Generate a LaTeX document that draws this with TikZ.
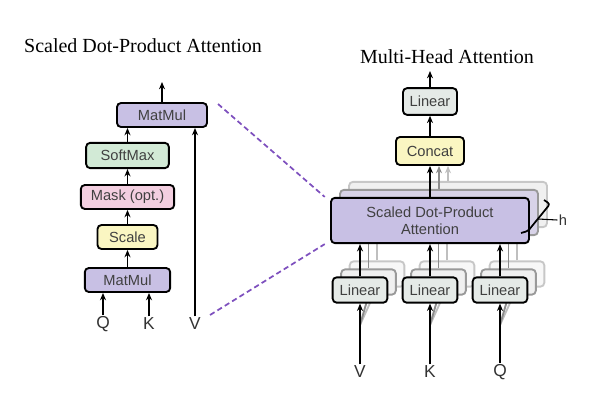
\documentclass[tikz,border=0pt]{standalone}
\usepackage{fontspec}
\setmainfont{Liberation Serif}
\newfontfamily\boxfont{Liberation Sans}
\usetikzlibrary{arrows.meta,positioning}
\definecolor{mmcol}{RGB}{200,192,228}
\definecolor{smcol}{RGB}{210,234,214}
\definecolor{mkcol}{RGB}{243,207,224}
\definecolor{sccol}{RGB}{250,246,194}
\definecolor{lncol}{RGB}{229,234,231}
\definecolor{sd1col}{RGB}{216,211,232}
\definecolor{dcol}{RGB}{126,80,190}
\tikzset{bx/.style={draw,line width=1.4pt,rounded corners=3pt,align=center,inner sep=0pt,font=\boxfont\fontsize{11}{12.5}\selectfont,text=black!75},
 sd1/.style={bx,fill=sd1col,draw=black!40},sd2/.style={bx,fill=black!6,draw=black!22},
 ln1/.style={bx,fill=black!6,draw=black!40},ln2/.style={bx,fill=black!3,draw=black!22},
 ar/.style={-{Stealth[length=5.5pt,width=4.5pt]},line width=1.4pt},
 g1/.style={ar,draw=black!45},g2/.style={ar,draw=black!25},
 lt/.style={font=\boxfont\fontsize{13}{14}\selectfont,text=black!80,inner sep=1pt},
 ttl/.style={font=\fontsize{15}{17}\selectfont},
 dsh/.style={dcol,line width=1.3pt,dash pattern=on 4pt off 2.5pt}}
\begin{document}
\begin{tikzpicture}[x=0.75pt,y=-0.75pt]
\useasboundingbox (0,0) rectangle (599,410);
% scaled dot-product attention
\node[ttl](t1) at (143,46){Scaled Dot-Product Attention};
\node[bx,fill=mmcol,minimum width=67.5pt,minimum height=18pt](mm2) at (162,115){MatMul};
\node[bx,fill=smcol,minimum width=62pt,minimum height=19pt](sm) at (127.5,155.5){SoftMax};
\node[bx,fill=mkcol,minimum width=70pt,minimum height=18pt](mk) at (127.5,197){Mask (opt.)};
\node[bx,fill=sccol,minimum width=45pt,minimum height=18pt](sc) at (127.5,237){Scale};
\node[bx,fill=mmcol,minimum width=64pt,minimum height=18pt](mm1) at (127.5,280){MatMul};
\node[lt](q1) at (103,324){Q};\node[lt](k1) at (149,324){K};\node[lt](v1) at (195,324){V};
\coordinate(o1) at (162,82);
\foreach\x/\y in {mm1/sc,sc/mk,mk/sm}{\draw[ar](\x)--(\y);}
\draw[ar](sm.north)--(sm.north|-mm2.south);\draw[ar](mm2)--(o1);
\draw[ar](q1)--(q1|-mm1.south);\draw[ar](k1)--(k1|-mm1.south);\draw[ar](v1)--(v1|-mm2.south);
% multi-head attention
\node[ttl](t2) at (447,57){Multi-Head Attention};
\node[bx,fill=lncol,minimum width=40.5pt,minimum height=20pt](lo) at (430,101.5){Linear};
\node[bx,fill=sccol,minimum width=51pt,minimum height=21pt](cc) at (430,151){Concat};
\foreach\k in {2,1}{
 \node[sd\k,minimum width=148.5pt,minimum height=34pt](sa\k) at ({430+9*\k},{220.5-8*\k}){};
 \draw[g\k](sa\k.north)--(sa\k.north|-cc.south);
 \foreach\n/\x in {v/360,k/430,q/500}{
  \node[ln\k,minimum width=41pt,minimum height=19pt](l\n\k) at ({\x+8.5*\k},{290-8*\k}){};
  \draw[g\k](l\n\k)--(l\n\k|-sa\k.south);
  \coordinate(i\n\k) at (\x,325);\draw[g\k](i\n\k)--(l\n\k.south);}}
\node[bx,fill=mmcol,minimum width=148.5pt,minimum height=34pt](sa) at (430,220.5){Scaled Dot-Product\\Attention};
\node[bx,fill=lncol,minimum width=41pt,minimum height=19pt](lv) at (360,290){Linear};
\node[bx,fill=lncol,minimum width=41pt,minimum height=19pt](lk) at (430,290){Linear};
\node[bx,fill=lncol,minimum width=41pt,minimum height=19pt](lq) at (500,290){Linear};
\node[lt](v2) at (360,372){V};\node[lt](k2) at (430,372){K};\node[lt](q2) at (500,372){Q};
\coordinate(o2) at (430,71);
\foreach\x/\y in {v2/lv,k2/lk,q2/lq}{\draw[ar](\x)--(\y);\draw[ar](\y)--(\y|-sa.south);}
\foreach\x/\y in {sa/cc,cc/lo,lo/o2}{\draw[ar](\x)--(\y);}
% h heads
\node[lt,font=\boxfont\fontsize{11}{12}\selectfont](h) at (563,220){h};
\draw[line width=1.3pt,rounded corners=2pt](544,200)--(550,204)--(528,231)--(521,233);
\draw[line width=0.8pt](538,219)--(h.west);
% link
\coordinate(d1) at (218,104);\coordinate(d2) at (210,315);
\draw[dsh](d1)--([xshift=-4pt]sa.north west);\draw[dsh](d2)--([xshift=-4pt]sa.south west);
\end{tikzpicture}
\end{document}
